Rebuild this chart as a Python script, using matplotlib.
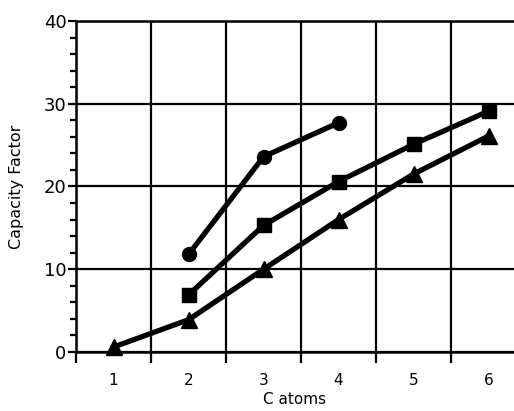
import numpy as np
import matplotlib.pyplot as plt
from matplotlib.ticker import MultipleLocator

# data
x_circ = [2, 3, 4]
y_circ = [11.8, 23.6, 27.7]
x_sq = [2, 3, 4, 5, 6]
y_sq = [6.9, 15.3, 20.6, 25.1, 29.1]
x_tri = [1, 2, 3, 4, 5, 6]
y_tri = [0.6, 3.9, 10.0, 16.0, 21.5, 26.1]

plt.rcParams['font.family'] = ['DejaVu Sans']

fig = plt.figure(figsize=(5.14, 4.11), dpi=100)
ax = fig.add_axes([0.148, 0.1436, 0.852, 0.8053])

lw = 3.8
ax.plot(x_circ, y_circ, color="black", lw=lw, marker="o", ms=10, clip_on=False)
ax.plot(x_sq, y_sq, color="black", lw=lw, marker="s", ms=10, clip_on=False)
ax.plot(x_tri, y_tri, color="black", lw=lw, marker="^", ms=11, clip_on=False)

ax.set_xlim(0.5, 6.34)
ax.set_ylim(0, 40)

# labels at integers, tick marks / grid between them
ax.set_xticks([1, 2, 3, 4, 5, 6])
ax.set_xticks([0.5, 1.5, 2.5, 3.5, 4.5, 5.5], minor=True)
ax.tick_params(axis="x", which="major", length=0, pad=15, labelsize=11)
ax.tick_params(axis="x", which="minor", length=8, width=1.6, direction="out")
ax.grid(True, axis="x", which="minor", color="black", lw=1.6)

ax.set_yticks([0, 10, 20, 30, 40])
ax.yaxis.set_minor_locator(MultipleLocator(2))
ax.tick_params(axis="y", which="major", length=6, width=1.6, labelsize=13, pad=1)
ax.tick_params(axis="y", which="minor", length=4, width=1.6)
ax.grid(True, axis="y", which="major", color="black", lw=1.6)

for s in ["left", "bottom", "top"]:
    ax.spines[s].set_linewidth(1.8)
ax.spines["right"].set_visible(False)

ax.set_xlabel("C atoms", fontsize=11, labelpad=3)
ax.set_ylabel("Capacity Factor", fontsize=11.5, labelpad=14)

fig.savefig("out.png", dpi=100)
